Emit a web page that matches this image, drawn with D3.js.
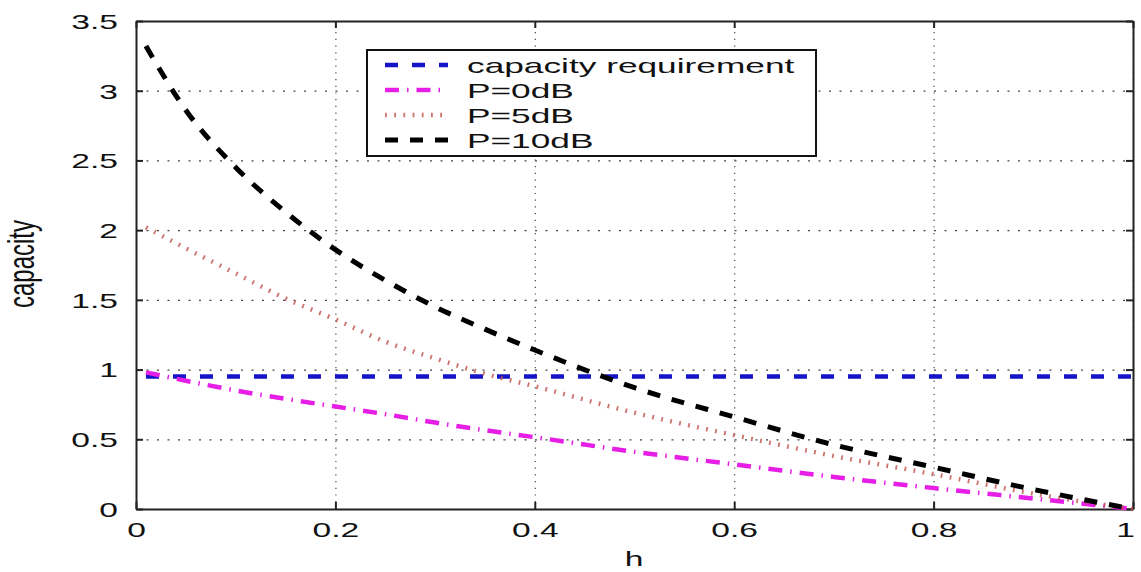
<!DOCTYPE html>
<html>
<head>
<meta charset="utf-8">
<script src="https://cdn.jsdelivr.net/npm/d3@7"></script>
<style>
  body { margin: 0; background: #fff; }
  svg { display: block; font-family: 'Liberation Sans', Arial, sans-serif; }
</style>
</head>
<body>
<svg id="chart" width="1141" height="572"></svg>
<script>
// values
const hVals   = [0.01, 0.05, 0.1, 0.15, 0.2, 0.25, 0.3, 0.35, 0.4, 0.5, 0.6, 0.7, 0.8, 0.9, 1.0];
const capReq  = [0.95, 0.95, 0.95, 0.95, 0.95, 0.95, 0.95, 0.95, 0.95, 0.95, 0.95, 0.95, 0.95, 0.95, 0.95];
const p0dB    = [0.98, 0.92, 0.85, 0.79, 0.735, 0.68, 0.62, 0.565, 0.515, 0.41, 0.32, 0.23, 0.15, 0.075, 0];
const p5dB    = [2.02, 1.87, 1.69, 1.51, 1.36, 1.20, 1.08, 0.97, 0.88, 0.69, 0.53, 0.38, 0.25, 0.11, 0];
const p10dB   = [3.32, 2.86, 2.45, 2.13, 1.86, 1.64, 1.45, 1.29, 1.14, 0.87, 0.66, 0.46, 0.30, 0.14, 0];
const seriesNames = ['capacity requirement', 'P=0dB', 'P=5dB', 'P=10dB'];
const xTicks = [0, 0.2, 0.4, 0.6, 0.8, 1];
const yTicks = [0, 0.5, 1, 1.5, 2, 2.5, 3, 3.5];

const svg = d3.select('#chart');
const mLeft = 136, mRight = 1133, mTop = 21, mBottom = 509;
const sx = 1.6; // the picture is stretched sideways, text too

const x = d3.scaleLinear().domain([0, 1]).range([mLeft, mRight]);
const y = d3.scaleLinear().domain([0, 3.5]).range([mBottom, mTop]);

// dotted grid
svg.append('g')
  .attr('transform', `translate(0,${mBottom})`)
  .call(d3.axisBottom(x).tickValues(xTicks).tickSize(-(mBottom - mTop)).tickFormat(''))
  .call(g => g.select('.domain').remove())
  .selectAll('line')
  .attr('stroke', '#444')
  .attr('stroke-width', 1.2)
  .attr('stroke-dasharray', '1.2,5.5');

svg.append('g')
  .attr('transform', `translate(${mLeft},0)`)
  .call(d3.axisLeft(y).tickValues(yTicks).tickSize(-(mRight - mLeft)).tickFormat(''))
  .call(g => g.select('.domain').remove())
  .selectAll('line')
  .attr('stroke', '#444')
  .attr('stroke-width', 1.2)
  .attr('stroke-dasharray', '2,8.5');

// frame + inward ticks
let xAxis = svg.append('g')
  .attr('class', 'frame')
  .attr('transform', `translate(0,${mBottom})`)
  .call(d3.axisBottom(x).tickValues(xTicks).tickSize(-7).tickSizeOuter(0).tickFormat(d => String(d)));
xAxis.selectAll('text')
  .attr('y', 0)
  .attr('dy', '0.71em')
  .attr('transform', d => `translate(${d === 1 ? -8 : 0},13) scale(${sx},1)`)
  .style('font-size', '21px')
  .attr('fill', '#111');

let yAxis = svg.append('g')
  .attr('class', 'frame')
  .attr('transform', `translate(${mLeft},0)`)
  .call(d3.axisLeft(y).tickValues(yTicks).tickSize(-7).tickSizeOuter(0).tickFormat(d => String(d)));
yAxis.selectAll('text')
  .attr('x', 0)
  .attr('dy', '0.35em')
  .attr('transform', `translate(-18,0) scale(${sx},1)`)
  .style('font-size', '21px')
  .attr('fill', '#111');

svg.append('g')
  .attr('class', 'frame')
  .attr('transform', `translate(0,${mTop})`)
  .call(d3.axisTop(x).tickValues(xTicks).tickSize(-7).tickSizeOuter(0).tickFormat(''));

svg.append('g')
  .attr('class', 'frame')
  .attr('transform', `translate(${mRight},0)`)
  .call(d3.axisRight(y).tickValues(yTicks).tickSize(-7).tickSizeOuter(0).tickFormat(''));

svg.selectAll('g.frame .domain, g.frame .tick line')
  .attr('stroke', '#222')
  .attr('stroke-width', 2);

// curves
const styles = [
  {values: capReq, color: '#1414c8', dash: '13,14', width: 4.5, opacity: 1},
  {values: p0dB,   color: '#e61ee6', dash: '14,8,1.5,8', width: 4.5, opacity: 1},
  {values: p5dB,   color: '#c0504a', dash: '1.8,7.4', width: 4.5, opacity: 0.8},
  {values: p10dB,  color: '#000000', dash: '13,12', width: 5, opacity: 1}
];

const line = d3.line()
  .x((d, i) => x(hVals[i]))
  .y(d => y(d))
  .curve(d3.curveMonotoneX);

svg.append('g')
  .selectAll('path')
  .data(styles)
  .enter()
  .append('path')
  .attr('d', d => line(d.values))
  .attr('fill', 'none')
  .attr('stroke', d => d.color)
  .attr('stroke-width', d => d.width)
  .attr('stroke-dasharray', d => d.dash)
  .attr('stroke-opacity', d => d.opacity);

// legend
let legend = svg.append('g');
legend.append('rect')
  .attr('x', 367).attr('y', 50)
  .attr('width', 449).attr('height', 106)
  .attr('fill', '#fff')
  .attr('stroke', '#111')
  .attr('stroke-width', 2);

let rows = legend.selectAll('g.row')
  .data(styles)
  .enter()
  .append('g')
  .attr('class', 'row')
  .attr('transform', (d, i) => `translate(0,${65 + i * 25})`);

rows.append('line')
  .attr('x1', 385).attr('x2', 448)
  .attr('y1', 0).attr('y2', 0)
  .attr('stroke', d => d.color)
  .attr('stroke-width', d => d.width)
  .attr('stroke-dasharray', d => d.dash)
  .attr('stroke-opacity', d => d.opacity);

rows.append('text')
  .attr('transform', `translate(467,8) scale(1.68,1)`)
  .style('font-size', '21px')
  .attr('fill', '#111')
  .text((d, i) => seriesNames[i]);

// axis titles
svg.append('text')
  .attr('transform', `translate(634,566) scale(${sx},1)`)
  .attr('text-anchor', 'middle')
  .style('font-size', '21px')
  .attr('fill', '#111')
  .text('h');

svg.append('text')
  .attr('transform', 'translate(34,264) rotate(-90) scale(1,1.55)')
  .attr('text-anchor', 'middle')
  .style('font-size', '24px')
  .attr('fill', '#111')
  .text('capacity');
</script>
</body>
</html>
